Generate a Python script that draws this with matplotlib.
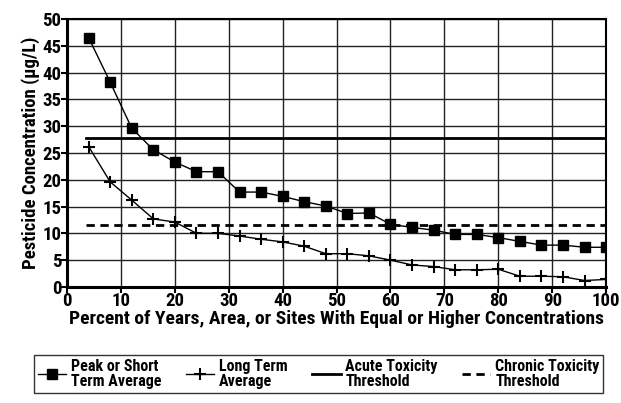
import matplotlib
matplotlib.use("Agg")
import matplotlib.pyplot as plt

plt.rcParams['font.family'] = ['DejaVu Sans Condensed', 'Liberation Sans Narrow', 'Roboto Condensed', 'Lato']

# percent of years / area / sites
pct = [4, 8, 12, 16, 20, 24, 28, 32, 36, 40, 44, 48, 52,
       56, 60, 64, 68, 72, 76, 80, 84, 88, 92, 96, 100]
peak = [46.5, 38.2, 29.6, 25.6, 23.3, 21.5, 21.5, 17.7, 17.7, 16.9, 15.9, 15.1, 13.7,
        13.8, 11.7, 11.1, 10.6, 9.8, 9.8, 9.2, 8.5, 7.8, 7.8, 7.4, 7.4]
long_term = [26.2, 19.6, 16.2, 12.7, 12.1, 10.0, 10.0, 9.5, 8.9, 8.4, 7.6, 6.2, 6.2,
             5.8, 5.0, 4.1, 3.8, 3.2, 3.2, 3.3, 2.0, 2.0, 1.9, 1.2, 1.4]
acute = 27.8
chronic = 11.6
thresh_x = [3.5, 100]

fig = plt.figure(figsize=(6.21, 4.03), dpi=100)
ax = fig.add_axes([0.108, 0.288, 0.868, 0.665])

ax.plot(pct, peak, color='black', lw=1, marker='s', ms=7.5, label='Peak or Short\nTerm Average')
ax.plot(pct, long_term, color='black', lw=1, marker='+', ms=9, mew=1.5, label='Long Term\nAverage')
ax.plot(thresh_x, [acute, acute], color='black', lw=2, label='Acute Toxicity\nThreshold')
ax.plot(thresh_x, [chronic, chronic], color='black', lw=2, ls=(0, (3, 2)), label='Chronic Toxicity\nThreshold')

ax.set_xlim(0, 100)
ax.set_ylim(0, 50)
ax.set_xticks(range(0, 101, 10))
ax.set_yticks(range(0, 51, 5))
ax.grid(True, color='#222222', lw=1)
ax.set_axisbelow(True)
for s in ['top', 'right']:
    ax.spines[s].set_linewidth(1.5)
for s in ['left', 'bottom']:
    ax.spines[s].set_linewidth(2.2)
ax.tick_params(axis='both', labelsize=13.5, width=1.5, length=4, pad=0)
for lab in ax.get_xticklabels() + ax.get_yticklabels():
    lab.set_fontweight('bold')

ax.set_xlabel('Percent of Years, Area, or Sites With Equal or Higher Concentrations',
              fontsize=14, fontweight='bold', labelpad=0)
ax.set_ylabel('Pesticide Concentration (\u03bcg/L)', fontsize=13.5, fontweight='bold', labelpad=2)

leg = fig.legend(loc='lower center', bbox_to_anchor=(0.513, 0.005), ncol=4,
                 prop={'size': 11.5, 'weight': 'bold'}, frameon=True, fancybox=False,
                 edgecolor='black', handlelength=1.8, handletextpad=0.3,
                 columnspacing=1.5, borderpad=0.25, labelspacing=0.0)
leg.get_frame().set_linewidth(1)
for t in leg.get_texts():
    t.set_multialignment('left')
    t.set_linespacing(1.0)

fig.savefig('out.png', dpi=100)
